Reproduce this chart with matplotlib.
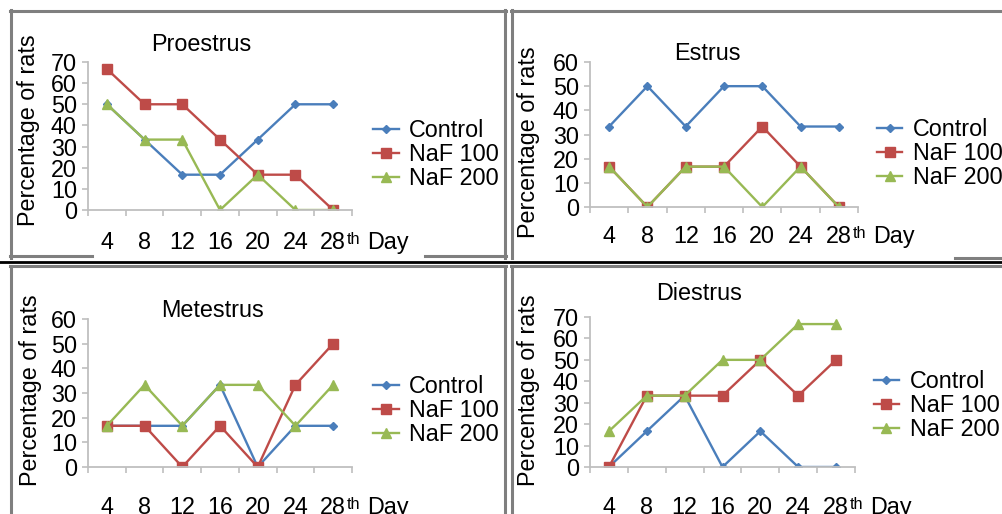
import numpy as np
import matplotlib
matplotlib.use("Agg")
import matplotlib.pyplot as plt
from matplotlib.lines import Line2D

plt.rcParams["font.family"] = ["Liberation Sans", "DejaVu Sans"]

W, H = 1002, 514
FS = 16.8

DAYS = ["4", "8", "12", "16", "20", "24", "28"]
SERIES = ["Control", "NaF 100", "NaF 200"]

PRO_CONTROL = [50, 33.3, 16.7, 16.7, 33.3, 50, 50]
PRO_NAF100 = [66.7, 50, 50, 33.3, 16.7, 16.7, 0]
PRO_NAF200 = [50, 33.3, 33.3, 0, 16.7, 0, 0]

EST_CONTROL = [33.3, 50, 33.3, 50, 50, 33.3, 33.3]
EST_NAF100 = [16.7, 0, 16.7, 16.7, 33.3, 16.7, 0]
EST_NAF200 = [16.7, 0, 16.7, 16.7, 0, 16.7, 0]

MET_CONTROL = [16.7, 16.7, 16.7, 33.3, 0, 16.7, 16.7]
MET_NAF100 = [16.7, 16.7, 0, 16.7, 0, 33.3, 50]
MET_NAF200 = [16.7, 33.3, 16.7, 33.3, 33.3, 16.7, 33.3]

DIE_CONTROL = [0, 16.7, 33.3, 0, 16.7, 0, 0]
DIE_NAF100 = [0, 33.3, 33.3, 33.3, 50, 33.3, 50]
DIE_NAF200 = [16.7, 33.3, 33.3, 50, 50, 66.7, 66.7]

COLORS = ["#4A7EBB", "#BE4B48", "#98B954"]
MARKERS = [("D", 4.5), ("s", 7), ("^", 6.5)]

# panel: title, data, ymax, axes box in pixels (left, top, right, bottom),
# title pos, ylabel pos, legend pos, tick label pad
PANELS = [
    dict(title="Proestrus", data=[PRO_CONTROL, PRO_NAF100, PRO_NAF200], ymax=70,
         box=(88, 62, 352, 210), tpos=(0.43, 1.12), ylab=(-0.18, 0.54),
         leg=(1.08, 0.375), pad=15),
    dict(title="Estrus", data=[EST_CONTROL, EST_NAF100, EST_NAF200], ymax=60,
         box=(590, 62, 858, 207), tpos=(0.437, 1.06), ylab=(-0.187, 0.445),
         leg=(1.07, 0.37), pad=13),
    dict(title="Metestrus", data=[MET_CONTROL, MET_NAF100, MET_NAF200], ymax=60,
         box=(88, 319, 352, 467), tpos=(0.47, 1.06), ylab=(-0.174, 0.52),
         leg=(1.08, 0.38), pad=21),
    dict(title="Diestrus", data=[DIE_CONTROL, DIE_NAF100, DIE_NAF200], ymax=70,
         box=(590, 317, 855, 467), tpos=(0.41, 1.16), ylab=(-0.187, 0.51),
         leg=(1.07, 0.41), pad=21),
]


def px_box(l, t, r, b):
    return [l / W, 1 - b / H, (r - l) / W, (b - t) / H]


fig = plt.figure(figsize=(W / 100, H / 100), dpi=100)

x = np.arange(len(DAYS))
for p in PANELS:
    ax = fig.add_axes(px_box(*p["box"]))
    for vals, name, c, (m, ms) in zip(p["data"], SERIES, COLORS, MARKERS):
        ax.plot(x, vals, color=c, lw=1.7, marker=m, ms=ms, mec=c, mfc=c, label=name)
    ax.set_xlim(-0.5, len(DAYS) - 0.5)
    ax.set_ylim(0, p["ymax"])
    ax.set_yticks(np.arange(0, p["ymax"] + 1, 10))
    ax.set_xticks(np.arange(-0.5, len(DAYS), 1.0))
    ax.set_xticklabels([])
    ax.set_xticks(x, minor=True)
    ax.set_xticklabels(DAYS, minor=True, fontsize=FS)
    ax.tick_params(axis="x", which="major", length=4, color="#BFBFBF", width=1.2)
    ax.tick_params(axis="x", which="minor", length=0, pad=p["pad"])
    ax.tick_params(axis="y", length=4, color="#BFBFBF", width=1.2, labelsize=FS, pad=4)
    for s in ["top", "right"]:
        ax.spines[s].set_visible(False)
    for s in ["left", "bottom"]:
        ax.spines[s].set_color("#BFBFBF")
        ax.spines[s].set_linewidth(1.3)
    ax.set_ylabel("Percentage of rats", fontsize=FS)
    ax.yaxis.set_label_coords(*p["ylab"])
    ax.text(*p["tpos"], p["title"], transform=ax.transAxes, fontsize=FS,
            ha="center", va="center")
    # superscript "th" after the last tick label, then "Day"
    ax.annotate("th", xy=(6.36, 0), xycoords=("data", "axes fraction"),
                xytext=(0, -p["pad"] - 0.5), textcoords="offset points",
                fontsize=FS * 0.7, ha="left", va="top", annotation_clip=False)
    ax.annotate("Day", xy=(6.9, 0), xycoords=("data", "axes fraction"),
                xytext=(0, -p["pad"]), textcoords="offset points",
                fontsize=FS, ha="left", va="top", annotation_clip=False)
    ax.legend(loc="center left", bbox_to_anchor=p["leg"], frameon=False,
              fontsize=FS, borderpad=0, borderaxespad=0, handlelength=1.1,
              handletextpad=0.45, labelspacing=0.05)


def hline(y, x0, x1, c="#7F7F7F", lw=2.2):
    fig.add_artist(Line2D([x0 / W, x1 / W], [1 - y / H, 1 - y / H], color=c, lw=lw))


def vline(xp, y0, y1, c="#7F7F7F", lw=2.2):
    fig.add_artist(Line2D([xp / W, xp / W], [1 - y0 / H, 1 - y1 / H], color=c, lw=lw))


# panel frames
hline(11, 10, 506)
vline(11, 10, 258)
vline(505, 10, 258)
hline(256, 10, 92)
hline(256, 425, 506)
hline(11, 511, 1002)
vline(512, 10, 258)
hline(258, 955, 1002)
hline(261.5, 0, 1002, c="black", lw=2.0)
hline(266, 10, 506)
vline(11, 266, 514)
vline(505, 266, 514)
hline(266, 511, 1002)
vline(512, 266, 514)

fig.savefig("out.png", dpi=100)
